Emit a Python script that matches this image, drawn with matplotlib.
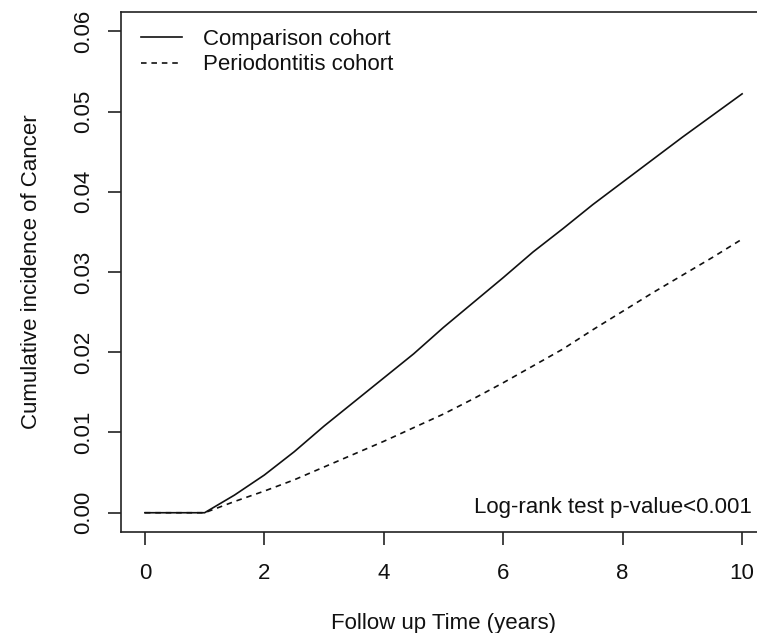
import matplotlib
matplotlib.use("Agg")
import matplotlib.pyplot as plt

years = [0, 1, 1.5, 2, 2.5, 3, 3.5, 4, 4.5, 5, 5.5, 6, 6.5, 7, 7.5, 8, 8.5, 9, 9.5, 10]
comparison = [0, 0, 0.0022, 0.0047, 0.0076, 0.0108, 0.0138, 0.0168, 0.0198, 0.0231,
              0.0262, 0.0293, 0.0325, 0.0354, 0.0384, 0.0412, 0.0440, 0.0468, 0.0495, 0.0522]
periodontitis = [0, 0, 0.0014, 0.0027, 0.0041, 0.0057, 0.0073, 0.0089, 0.0106, 0.0123,
                 0.0142, 0.0162, 0.0183, 0.0204, 0.0228, 0.0251, 0.0274, 0.0296, 0.0318, 0.0341]
x_ticks = [0, 2, 4, 6, 8, 10]
y_ticks = [0.00, 0.01, 0.02, 0.03, 0.04, 0.05, 0.06]
y_ticklabels = ["0.00", "0.01", "0.02", "0.03", "0.04", "0.05", "0.06"]

plt.rcParams['font.family'] = ['Liberation Sans', 'DejaVu Sans']
plt.rcParams['lines.scale_dashes'] = False

W, H = 757, 633
fig = plt.figure(figsize=(W / 100, H / 100), dpi=100)
left, right, bottom, top = 121, 766, 532, 12
ax = fig.add_axes([left / W, (H - bottom) / H, (right - left) / W, (bottom - top) / H])

col = "#111111"
FS = 16
ax.plot(years, comparison, color=col, lw=1.2, label="Comparison cohort")
ax.plot(years, periodontitis, color=col, lw=1.2, dashes=(4, 3.5), label="Periodontitis cohort")

ax.set_xlim(-0.4, 10.4)
ax.set_ylim(-0.0024, 0.0624)
ax.set_xticks(x_ticks)
ax.set_xticklabels([str(t) for t in x_ticks])
ax.set_yticks(y_ticks)
ax.set_yticklabels(y_ticklabels, rotation=90, va="center")

for s in ax.spines.values():
    s.set_linewidth(1.2)
    s.set_color("#222222")
ax.tick_params(axis="both", length=9.5, width=1.2, color="#222222", labelsize=FS,
               labelcolor=col)
ax.tick_params(axis="x", pad=12.5)
ax.tick_params(axis="y", pad=9.5)

ax.set_xlabel("Follow up Time (years)", fontsize=FS, color=col, labelpad=21)
ax.set_ylabel("Cumulative incidence of Cancer", fontsize=FS, color=col, labelpad=23)

leg = ax.legend(loc="upper left", bbox_to_anchor=(1.0 / 645, 1.0 + 2.0 / 520), frameon=False,
                fontsize=FS, handlelength=1.85, handletextpad=0.95, labelspacing=0.2,
                borderaxespad=0.45)
for t in leg.get_texts():
    t.set_color(col)

ax.text((752 - left) / (right - left), (bottom - 508) / (bottom - top),
        "Log-rank test p-value<0.001", transform=ax.transAxes, ha="right", va="center",
        fontsize=FS, color=col)

fig.savefig("out.png", dpi=100)
